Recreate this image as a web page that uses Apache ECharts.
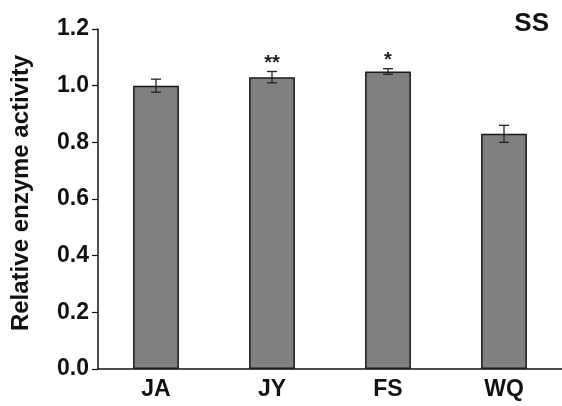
<!DOCTYPE html>
<html><head><meta charset="utf-8">
<script src="https://cdn.jsdelivr.net/npm/echarts@6/dist/echarts.min.js"></script>
<style>html,body{margin:0;padding:0;background:#fff}#c{width:562px;height:406px}</style>
</head><body><div id="c"></div>
<script>
const categories = ['JA', 'JY', 'FS', 'WQ'];
const values = [1.0, 1.03, 1.05, 0.83];
const errors = [0.023, 0.02, 0.01, 0.03];
const marks = ['', '**', '*', ''];
const yTicks = [0.0, 0.2, 0.4, 0.6, 0.8, 1.0, 1.2];

const chart = echarts.init(document.getElementById('c'));
const font = 'Arial, "Liberation Sans", sans-serif';
chart.setOption({
  animation: false,
  grid: { left: 98, right: -4, top: 29, bottom: 37 },
  title: { text: 'SS', right: 8, top: 6, textStyle: { fontFamily: font, fontWeight: 'bold', fontSize: 26, color: '#111' } },
  xAxis: {
    type: 'category', data: categories,
    axisLine: { lineStyle: { color: '#111', width: 1.5 } },
    axisTick: { show: false },
    axisLabel: { fontFamily: font, fontWeight: 'bold', fontSize: 23, color: '#111', margin: 9 }
  },
  yAxis: {
    type: 'value', min: 0, max: 1.2, interval: 0.2,
    name: 'Relative enzyme activity', nameLocation: 'middle', nameGap: 65,
    nameTextStyle: { fontFamily: font, fontWeight: 'bold', fontSize: 24, color: '#111', padding: [0, 0, 0, 12] },
    splitLine: { show: false },
    axisLine: { show: true, lineStyle: { color: '#111', width: 1.5 } },
    axisTick: { show: true, length: 6, lineStyle: { color: '#111', width: 1.2 } },
    axisLabel: { fontFamily: font, fontWeight: 'bold', fontSize: 23, color: '#111', margin: 9,
      formatter: v => yTicks.includes(+v.toFixed(1)) ? v.toFixed(1) : '' }
  },
  series: [
    {
      type: 'bar', data: values, barWidth: '39.5%',
      itemStyle: { color: '#808080', borderColor: '#1a1a1a', borderWidth: 1.5 }
    },
    {
      type: 'custom',
      data: values.map((v, i) => [i, v, errors[i], marks[i]]),
      renderItem: (params, api) => {
        const i = api.value(0), v = api.value(1), e = api.value(2);
        const top = api.coord([i, v + e]);
        const bot = api.coord([i, v - e]);
        const hw = 5;
        const st = { stroke: '#222', lineWidth: 1.3 };
        const children = [
          { type: 'line', shape: { x1: top[0], y1: top[1], x2: bot[0], y2: bot[1] }, style: st },
          { type: 'line', shape: { x1: top[0] - hw, y1: top[1], x2: top[0] + hw, y2: top[1] }, style: st },
          { type: 'line', shape: { x1: bot[0] - hw, y1: bot[1], x2: bot[0] + hw, y2: bot[1] }, style: st }
        ];
        const m = marks[i];
        if (m) {
          children.push({ type: 'text', style: { text: m, x: top[0], y: top[1] + 2, align: 'center', verticalAlign: 'bottom',
            font: 'bold 20px Arial, "Liberation Sans", sans-serif', fill: '#222' } });
        }
        return { type: 'group', children };
      },
      z: 5
    }
  ]
});
</script></body></html>
